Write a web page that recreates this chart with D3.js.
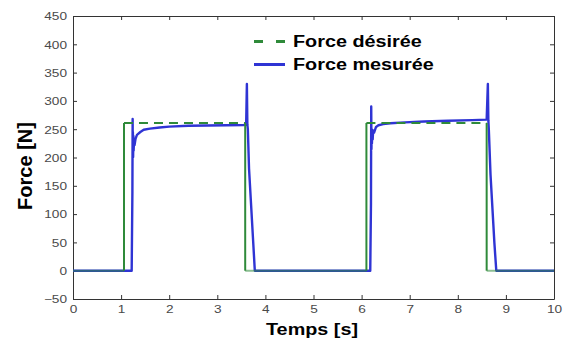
<!DOCTYPE html>
<html><head><meta charset="utf-8">
<script src="https://cdn.jsdelivr.net/npm/d3@7"></script>
<style>body{margin:0;background:#fff}svg{display:block}</style>
</head><body>
<svg id="c" width="566" height="347"></svg>
<script>
const xTicks = [0,1,2,3,4,5,6,7,8,9,10];
const yTicks = [-50,0,50,100,150,200,250,300,350,400,450];
const desiredT = [0, 1.06, 1.06, 3.58, 3.58, 6.10, 6.10, 8.60, 8.60, 10];
const desiredF = [0, 0, 261, 261, 0, 0, 261, 261, 0, 0];
const measuredT = [0, 1.22, 1.235, 1.24, 1.242, 1.245, 1.25, 1.255, 1.26, 1.27, 1.28, 1.3, 1.33, 1.4, 1.47, 1.6, 1.8, 2.0, 2.4, 2.8, 3.2, 3.55, 3.6, 3.615, 3.625, 3.635, 3.66, 3.7, 3.74, 3.78, 4.5, 5.0, 5.5, 6.0, 6.18, 6.195, 6.2, 6.205, 6.21, 6.215, 6.22, 6.23, 6.24, 6.26, 6.3, 6.35, 6.45, 6.6, 6.9, 7.3, 7.8, 8.3, 8.6, 8.625, 8.635, 8.645, 8.68, 8.72, 8.76, 8.8, 9.3, 10];
const measuredF = [0, 0, 140, 268, 205, 245, 201, 238, 212, 232, 222, 233, 240, 245, 249, 251, 253, 254.5, 256, 256.5, 257, 257.5, 258, 330, 258, 250, 180, 120, 60, 0, 0, 0, 0, 0, 0, 120, 290, 215, 250, 225, 245, 232, 248, 244, 254, 257, 259, 260.5, 262, 263.5, 265, 266, 267, 330, 266, 250, 170, 110, 50, 0, 0, 0];
const legendLabels = ["Force désirée", "Force mesurée"];
const colGreen = "#2f8a3a", colBlue = "#2f34d4";

const svg = d3.select("#c");
const L=73, R=554, T=16, B=299;
const x = d3.scaleLinear().domain([0,10]).range([L,R]);
const y = d3.scaleLinear().domain([-50,450]).range([B,T]);
const SX = 1.3;

// axes
const axisCol = "#333";
const gB = svg.append("g").attr("transform",`translate(0,${B})`)
  .call(d3.axisBottom(x).tickValues(xTicks).tickSize(-4).tickSizeOuter(0).tickFormat(d3.format("d")));
const gT = svg.append("g").attr("transform",`translate(0,${T})`)
  .call(d3.axisTop(x).tickValues(xTicks).tickSize(-4).tickSizeOuter(0).tickFormat(""));
const gL = svg.append("g").attr("transform",`translate(${L},0)`)
  .call(d3.axisLeft(y).tickValues(yTicks).tickSize(-4).tickSizeOuter(0).tickFormat(d3.format("d")));
const gR = svg.append("g").attr("transform",`translate(${R},0)`)
  .call(d3.axisRight(y).tickValues(yTicks).tickSize(-4).tickSizeOuter(0).tickFormat(""));
[gB,gT,gL,gR].forEach(g=>{
  g.select(".domain").attr("stroke",axisCol).attr("stroke-width",1);
  g.selectAll(".tick line").attr("stroke",axisCol);
  g.selectAll("text").attr("font-family","Liberation Sans, Arial, sans-serif").attr("font-size",10.5).attr("fill","#4a4a4a");
});
gB.selectAll(".tick text").attr("y",null).attr("dy",null)
  .attr("transform",`translate(0,14) scale(${SX},1)`);
gL.selectAll(".tick text").attr("x",null).attr("dy",null)
  .attr("transform",`translate(-6,3.8) scale(${SX},1)`);

// data
const desired = desiredT.map((t,i)=>({t, f:desiredF[i]}));
const measured = measuredT.map((t,i)=>({t, f:measuredF[i]}));
const line = d3.line().x(d=>x(d.t)).y(d=>y(d.f));

const segs = d3.pairs(desired);
svg.append("path").datum(measured).attr("d",line)
  .attr("fill","none").attr("stroke",colBlue).attr("stroke-width",2.4).attr("stroke-linejoin","round");
segs.forEach(([a,b])=>{
  const dashed = a.f===b.f && a.f!==0;
  svg.append("path").datum([a,b]).attr("d",line).attr("fill","none")
    .attr("stroke",colGreen).attr("stroke-width",2)
    .attr("stroke-opacity", a.f===0 && b.f===0 ? 0.55 : 1)
    .attr("stroke-dasharray", dashed ? "9,6" : null);
});

// legend
const lg = svg.append("g");
lg.append("line").attr("x1",254).attr("x2",285).attr("y1",41.5).attr("y2",41.5)
  .attr("stroke",colGreen).attr("stroke-width",3).attr("stroke-dasharray","9,13");
lg.append("line").attr("x1",254).attr("x2",285).attr("y1",64.5).attr("y2",64.5)
  .attr("stroke",colBlue).attr("stroke-width",3);
legendLabels.forEach((s,i)=>{
  lg.append("text").attr("transform",`translate(293,${46.7+23.3*i}) scale(1.2,1)`)
    .attr("font-family","Liberation Sans, Arial, sans-serif").attr("font-weight","bold")
    .attr("font-size",16.5).attr("fill","#000").text(s);
});

// axis titles
svg.append("text").attr("transform",`translate(312,335) scale(1.2,1)`).attr("text-anchor","middle")
  .attr("font-family","Liberation Sans, Arial, sans-serif").attr("font-weight","bold").attr("font-size",16.5).text("Temps [s]");
svg.append("text").attr("transform",`translate(32,166) rotate(-90)`).attr("text-anchor","middle")
  .attr("font-family","Liberation Sans, Arial, sans-serif").attr("font-weight","bold").attr("font-size",20).text("Force [N]");
</script>
</body></html>
